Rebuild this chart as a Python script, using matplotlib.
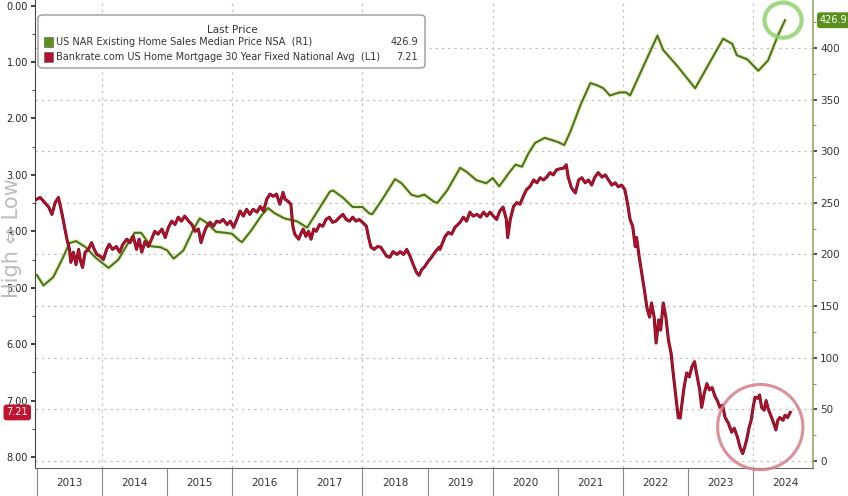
import matplotlib
matplotlib.use("Agg")
import matplotlib.pyplot as plt
from matplotlib.patches import Ellipse, FancyBboxPatch, Rectangle
from matplotlib.ticker import FixedLocator, FuncFormatter, MultipleLocator

# ---------------- data ----------------
years = list(range(2013, 2025))

green_t = [2013.00, 2013.10, 2013.25, 2013.40, 2013.50, 2013.60, 2013.75, 2013.90,
           2014.00, 2014.10, 2014.25, 2014.40, 2014.50, 2014.60, 2014.75, 2014.90,
           2015.00, 2015.10, 2015.25, 2015.40, 2015.50, 2015.60, 2015.75, 2015.90,
           2016.00, 2016.10, 2016.15, 2016.30, 2016.45, 2016.55, 2016.65, 2016.80,
           2017.00, 2017.10, 2017.15, 2017.30, 2017.50, 2017.55, 2017.70, 2017.85,
           2018.00, 2018.10, 2018.15, 2018.30, 2018.50, 2018.60, 2018.75, 2018.85, 2018.95,
           2019.10, 2019.15, 2019.30, 2019.50, 2019.60, 2019.75, 2019.90,
           2020.00, 2020.10, 2020.25, 2020.35, 2020.45, 2020.55, 2020.65, 2020.80,
           2021.00, 2021.10, 2021.20, 2021.35, 2021.50, 2021.60, 2021.70, 2021.80, 2021.95,
           2022.05, 2022.11, 2022.53, 2022.62, 2022.83, 2023.11, 2023.54, 2023.68, 2023.75,
           2023.91, 2024.08, 2024.23, 2024.38, 2024.49]
green_v = [180, 170, 178, 197, 211, 213, 207, 197,
           192, 187, 195, 211, 221, 221, 208, 207,
           204, 196, 204, 224, 235, 231, 222, 221,
           220, 214, 212, 224, 238, 245, 240, 235,
           232, 228, 226, 241, 261, 262, 255, 246,
           246, 240, 239, 253, 273, 269, 258, 256, 258,
           251, 250, 262, 284, 280, 272, 269,
           274, 266, 279, 287, 285, 298, 308, 313,
           309, 306, 320, 345, 366, 364, 361, 354, 357,
           357, 354, 412, 398, 383, 361, 409, 404, 393,
           389, 378, 388, 412, 426.9]

red_t = [2013.00, 2013.05, 2013.12, 2013.18, 2013.23, 2013.28, 2013.33, 2013.38, 2013.43, 2013.46,
         2013.50, 2013.52, 2013.56, 2013.60, 2013.64, 2013.67, 2013.70, 2013.74, 2013.79, 2013.84,
         2013.88, 2013.92, 2013.97, 2014.02, 2014.07, 2014.11, 2014.16, 2014.22, 2014.27, 2014.32,
         2014.38, 2014.43, 2014.48, 2014.53, 2014.57, 2014.61, 2014.66, 2014.71, 2014.76, 2014.81,
         2014.86, 2014.92, 2014.97, 2015.02, 2015.07, 2015.12, 2015.17, 2015.22, 2015.27, 2015.33,
         2015.38, 2015.43, 2015.48, 2015.52, 2015.56, 2015.60, 2015.66, 2015.71, 2015.76, 2015.81,
         2015.86, 2015.92,
         2015.97, 2016.02, 2016.07, 2016.12, 2016.17, 2016.22, 2016.27, 2016.32, 2016.38, 2016.43,
         2016.48, 2016.53, 2016.58, 2016.63, 2016.68, 2016.73, 2016.78, 2016.81, 2016.86, 2016.90,
         2016.93, 2016.96, 2017.02, 2017.05, 2017.09, 2017.13, 2017.17, 2017.21, 2017.25, 2017.29,
         2017.34, 2017.39, 2017.44, 2017.49, 2017.54, 2017.59, 2017.65, 2017.70, 2017.75, 2017.80,
         2017.85, 2017.90, 2017.95, 2018.00, 2018.06, 2018.09, 2018.13, 2018.18, 2018.23, 2018.28,
         2018.33, 2018.37, 2018.42, 2018.47, 2018.53, 2018.58, 2018.63, 2018.68, 2018.73, 2018.78,
         2018.83, 2018.87, 2018.91, 2018.96, 2019.01, 2019.06, 2019.12, 2019.18,
         2019.19, 2019.27, 2019.32, 2019.37, 2019.42, 2019.50, 2019.55, 2019.60, 2019.65, 2019.70,
         2019.76, 2019.81, 2019.86, 2019.91, 2019.96, 2020.01, 2020.06, 2020.11, 2020.16, 2020.21,
         2020.23, 2020.27, 2020.32, 2020.37, 2020.42, 2020.47, 2020.52, 2020.57, 2020.63, 2020.68,
         2020.73, 2020.78, 2020.83, 2020.88, 2020.93, 2020.98, 2021.04, 2021.09, 2021.13, 2021.16,
         2021.21, 2021.27, 2021.32, 2021.37, 2021.42, 2021.47, 2021.52, 2021.57, 2021.62, 2021.68,
         2021.73, 2021.78, 2021.83, 2021.88, 2021.93, 2021.98, 2022.03,
         2022.07, 2022.11, 2022.15, 2022.19, 2022.21, 2022.25, 2022.29, 2022.33, 2022.37, 2022.41,
         2022.44, 2022.48, 2022.51, 2022.55, 2022.58, 2022.62, 2022.66, 2022.70, 2022.74, 2022.78,
         2022.82, 2022.85, 2022.88, 2022.90, 2022.94, 2022.98, 2023.02, 2023.06, 2023.10, 2023.13,
         2023.18, 2023.21, 2023.25, 2023.29, 2023.33, 2023.37, 2023.42, 2023.45, 2023.49, 2023.53,
         2023.57, 2023.62, 2023.67, 2023.71, 2023.76, 2023.80, 2023.84, 2023.87, 2023.90, 2023.94,
         2023.97, 2024.00, 2024.03, 2024.07, 2024.10, 2024.13, 2024.17, 2024.20, 2024.23, 2024.27,
         2024.31, 2024.35, 2024.38, 2024.41, 2024.46, 2024.49, 2024.53, 2024.57]
red_v = [3.43, 3.40, 3.49, 3.57, 3.70, 3.49, 3.40, 3.66, 3.96, 4.14,
         4.32, 4.55, 4.37, 4.59, 4.32, 4.53, 4.64, 4.37, 4.32, 4.20,
         4.32, 4.41, 4.44, 4.50, 4.32, 4.23, 4.32, 4.27, 4.37, 4.23,
         4.14, 4.20, 4.09, 4.32, 4.14, 4.37, 4.18, 4.27, 4.14, 4.00,
         4.05, 3.96, 4.11, 3.93, 3.82, 3.88, 3.75, 3.82, 3.73, 3.82,
         3.88, 4.00, 3.96, 4.20, 4.05, 3.93, 3.84, 3.91, 3.82, 3.84,
         3.79, 3.88,
         3.82, 3.93, 3.79, 3.64, 3.73, 3.61, 3.70, 3.61, 3.66, 3.56,
         3.64, 3.43, 3.34, 3.38, 3.34, 3.52, 3.31, 3.43, 3.47, 3.52,
         3.91, 4.05, 4.14, 4.05, 3.96, 4.09, 4.00, 4.14, 3.96, 4.00,
         3.88, 3.91, 3.79, 3.75, 3.84, 3.82, 3.75, 3.70, 3.79, 3.82,
         3.75, 3.82, 3.79, 3.84, 3.91, 4.09, 4.28, 4.32, 4.27, 4.28,
         4.37, 4.44, 4.46, 4.36, 4.41, 4.36, 4.41, 4.32, 4.44, 4.59,
         4.73, 4.78, 4.68, 4.62, 4.53, 4.46, 4.36, 4.28,
         4.32, 4.09, 4.02, 4.05, 3.93, 3.84, 3.75, 3.82, 3.66, 3.73,
         3.70, 3.75, 3.66, 3.73, 3.66, 3.73, 3.79, 3.64, 3.57, 3.79,
         4.11, 3.79, 3.56, 3.49, 3.52, 3.38, 3.26, 3.21, 3.09, 3.14,
         3.05, 3.09, 3.04, 2.96, 3.00, 2.91, 2.89, 2.88, 2.82, 3.04,
         3.23, 3.32, 3.09, 3.05, 3.14, 3.09, 3.18, 3.04, 2.96, 3.04,
         3.00, 3.09, 3.18, 3.14, 3.21, 3.18, 3.26,
         3.50, 3.79, 3.91, 4.27, 4.11, 4.45, 4.74, 5.04, 5.36, 5.52,
         5.27, 5.52, 5.98, 5.57, 5.75, 5.27, 5.52, 5.93, 6.16, 6.59,
         7.00, 7.30, 7.31, 7.12, 6.76, 6.51, 6.58, 6.40, 6.31, 6.51,
         6.81, 7.12, 6.87, 6.70, 6.81, 6.77, 6.94, 7.00, 7.12, 7.08,
         7.30, 7.40, 7.56, 7.49, 7.65, 7.83, 7.94, 7.83, 7.70, 7.47,
         7.35, 7.12, 6.94, 6.96, 6.90, 7.12, 7.17, 7.00, 7.14, 7.26,
         7.38, 7.52, 7.35, 7.30, 7.35, 7.26, 7.30, 7.21]

left_ticks = [0, 1, 2, 3, 4, 5, 6, 7, 8]
right_ticks = [0, 50, 100, 150, 200, 250, 300, 350, 400]
grid_years = [2014, 2016, 2018, 2020, 2022, 2024]
last_green = 426.9
last_red = 7.21
legend_title = "Last Price"
green_name = "US NAR Existing Home Sales Median Price NSA  (R1)"
red_name = "Bankrate.com US Home Mortgage 30 Year Fixed National Avg  (L1)"

GREEN = "#4e7320"
RED = "#b3112e"
GRID = "#c4c4c4"

# ---------------- figure ----------------
W, H = 848, 496
fig = plt.figure(figsize=(W / 100, H / 100), dpi=100)
fig.patch.set_facecolor("white")

ax = fig.add_axes([35 / W, 28 / H, 778 / W, 468 / H])
ax2 = ax.twinx()
ax.set_zorder(2)
ax2.set_zorder(1)
ax.patch.set_visible(False)
ax2.patch.set_visible(True)
ax2.patch.set_facecolor("white")

ax.set_xlim(2012.97, 2024.92)
ax.set_ylim(8.195, -0.10)
ax2.set_ylim(-6.8, 446.5)

# grid (drawn on the lower axes)
ax2.set_yticks(right_ticks)
ax2.grid(axis="y", color=GRID, linestyle=(0, (2, 3)), linewidth=0.9)
for gy in grid_years:
    ax2.axvline(gy, color=GRID, linestyle=(0, (2, 3)), linewidth=0.9, zorder=0)

# series
ax2.plot(green_t, green_v, color="#d9ef9a", linewidth=3.2, alpha=0.6, solid_capstyle="round", zorder=2)
ax2.plot(green_t, green_v, color=GREEN, linewidth=1.5, zorder=3)
ax.plot(red_t, red_v, color="#6e0a1c", linewidth=2.2, zorder=3)
ax.plot(red_t, red_v, color=RED, linewidth=1.3, zorder=4)

# circles
ax2.add_patch(Ellipse((2024.46, 427), 0.57, 34, fill=False, edgecolor="#8ed36b",
                      linewidth=3, alpha=0.85, clip_on=False, zorder=5))
ax.add_patch(Ellipse((2024.11, 7.47), 1.31, 1.51, fill=False, edgecolor="#d67d86",
                     linewidth=2.2, alpha=0.85, clip_on=False, zorder=5))

# left axis
ax.set_yticks(left_ticks)
ax.yaxis.set_major_formatter(FuncFormatter(lambda v, p: f"{v:.2f}"))
ax.yaxis.set_minor_locator(MultipleLocator(0.5))
ax.tick_params(axis="y", which="major", direction="out", length=3, width=1.2,
               labelsize=7, colors="#222222", pad=2)
ax.tick_params(axis="y", which="minor", direction="out", length=2, width=0.8, color="#555555")

# right axis
ax2.yaxis.set_major_formatter(FuncFormatter(lambda v, p: f"{int(v)}"))
ax2.yaxis.set_minor_locator(MultipleLocator(25))
ax2.tick_params(axis="y", which="major", direction="out", length=3, width=1.2,
                labelsize=7.5, colors="#333333", pad=2)
ax2.tick_params(axis="y", which="minor", direction="out", length=2, width=0.8, color="#8a9a5b")

# x axis: separators at year starts, labels at mid-year
ax.xaxis.set_major_locator(FixedLocator(years))
ax.xaxis.set_minor_locator(FixedLocator([y + 0.5 for y in years]))
ax.xaxis.set_major_formatter(FuncFormatter(lambda v, p: ""))
ax.xaxis.set_minor_formatter(FuncFormatter(lambda v, p: f"{int(v)}"))
ax.tick_params(axis="x", which="major", direction="out", length=21, width=0.8, color="#888888")
ax.tick_params(axis="x", which="minor", length=0, labelsize=7.5, labelcolor="#333333", pad=7)

# spines
for s in ["top", "right"]:
    ax.spines[s].set_visible(False)
ax.spines["left"].set_color("#444444")
ax.spines["bottom"].set_color("#666666")
for s in ["top", "left", "bottom"]:
    ax2.spines[s].set_visible(False)
ax2.spines["right"].set_color("#9aa86a")
ax2.spines["right"].set_linewidth(1.2)

# last value tags
ax2.annotate(f"{last_green}", xy=(1, last_green), xycoords=("axes fraction", "data"),
             xytext=(5, 0), textcoords="offset points", ha="left", va="center",
             color="white", fontsize=7, annotation_clip=False,
             bbox=dict(boxstyle="round,pad=0.3", fc="#5b8f1c", ec="none"))
ax.annotate(f"{last_red}", xy=(0, last_red), xycoords=("axes fraction", "data"),
            xytext=(-5, 0), textcoords="offset points", ha="right", va="center",
            color="white", fontsize=7, annotation_clip=False,
            bbox=dict(boxstyle="round,pad=0.3", fc="#c0142f", ec="none"))

# High <-> Low label
fig.text(12 / W, 1 - 238 / H, "High ⇔ Low", rotation=90, ha="center", va="center",
         fontsize=15, color="#bdbdbd")

# legend (manual, Bloomberg style)
lb = FancyBboxPatch((38 / W, 1 - 68 / H), (425 - 38) / W, (68 - 15) / H,
                    boxstyle="round,pad=0.0,rounding_size=0.006", transform=fig.transFigure,
                    facecolor="white", edgecolor="#9a9a9a", linewidth=1.0, zorder=10)
fig.patches.append(lb)
fig.text(232 / W, 1 - 30 / H, legend_title, ha="center", va="center", fontsize=7.5,
         color="#333333", zorder=11)
for yy, col, name, val in [(42, "#5b8f1c", green_name, f"{last_green}"),
                           (57, RED, red_name, f"{last_red}")]:
    fig.patches.append(Rectangle((44 / W, 1 - (yy + 4.5) / H), 9 / W, 9 / H,
                                 transform=fig.transFigure, facecolor=col,
                                 edgecolor="#555555", linewidth=0.4, zorder=11))
    fig.text(56 / W, 1 - yy / H, name, ha="left", va="center", fontsize=7,
             color="#333333", zorder=11)
    fig.text(418 / W, 1 - yy / H, val, ha="right", va="center", fontsize=7,
             color="#333333", zorder=11)

fig.savefig("out.png", dpi=100)
